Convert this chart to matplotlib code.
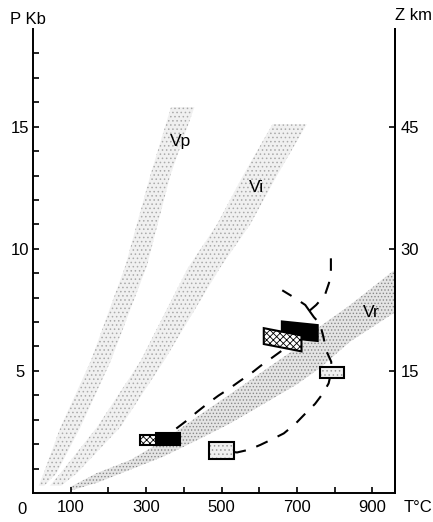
import matplotlib.pyplot as plt
import numpy as np
from matplotlib.patches import Polygon

plt.rcParams['font.family'] = ['Liberation Sans Narrow', 'Liberation Sans', 'DejaVu Sans']
plt.rcParams['hatch.linewidth'] = 0.6
plt.rcParams['lines.scale_dashes'] = False

# geotherm bands (T in C, P in kb)
vp_P = [0.3, 0.8, 2.7, 5.4, 9.3, 13.0, 15.8]
vp_Tleft = [15, 28, 73, 153, 245, 311, 366]
vp_Tright = [30, 62, 126, 206, 302, 364, 428]

vi_P = [0.3, 0.82, 2.7, 5.4, 9.2, 11.0, 13.0, 15.1]
vi_Tleft = [45, 73, 170, 285, 410, 488, 557, 635]
vi_Tright = [75, 117, 232, 347, 495, 576, 647, 726]

vr_T = [100, 170, 259, 347, 435, 523, 612, 700, 762, 841, 960]
vr_Plow = [0.1, 0.42, 0.96, 1.5, 2.16, 2.85, 3.65, 4.45, 5.13, 6.2, 7.4]
vr_Phigh = [0.26, 0.82, 1.36, 2.16, 3.12, 4.05, 5.01, 5.95, 6.83, 7.7, 9.15]

band_names = ['Vp', 'Vi', 'Vr']
band_label_T = [391, 592, 897]
band_label_P = [14.4, 12.5, 7.4]

# P-T boxes
rect_kind = ['cross', 'black', 'dot', 'black', 'cross', 'dot']
rect_T0 = [285, 325, 466, 660, 612, 760]
rect_T1 = [347, 391, 532, 755, 712, 825]
rect_P0 = [1.96, 1.97, 1.40, 6.30, 5.95, 4.70]
rect_P1 = [2.36, 2.44, 2.10, 6.95, 6.60, 5.16]
rect_tilt = [0, 0, 0, 0.15, 0.3, 0]

# dashed P-T paths
pathA_T = [380, 409, 435, 462, 492, 519, 550, 576, 603, 634, 668]
pathA_P = [2.64, 2.98, 3.32, 3.65, 3.99, 4.26, 4.6, 4.87, 5.2, 5.54, 5.92]

pathB_T = [532, 541, 572, 603, 634, 665, 695, 722, 748, 769, 784, 790, 791, 778, 770, 761, 745, 733]
pathB_P = [1.68, 1.66, 1.77, 1.97, 2.2, 2.44, 2.82, 3.25, 3.65, 4.08, 4.49, 4.9, 5.37, 5.82, 6.4, 6.93, 7.2, 7.46]

pathC_T = [733, 722, 693, 661]
pathC_P = [7.46, 7.7, 8.0, 8.3]

pathD_T = [733, 751, 774, 785, 790, 790]
pathD_P = [7.46, 7.7, 8.1, 8.6, 9.14, 9.7]

xticks = [100, 200, 300, 400, 500, 600, 700, 800, 900]
xticklabels = ['100', '', '300', '', '500', '', '700', '', '900']
yticks = [5, 10, 15]
zticks = [15, 30, 45]

fig = plt.figure(figsize=(4.33, 5.22), dpi=100)
ax = fig.add_axes([33 / 433, 29 / 522, 362 / 433, 464 / 522])
ax.set_xlim(0, 960)
ax.set_ylim(0, 19)

# bands
ax.fill_betweenx(vp_P, vp_Tleft, vp_Tright, facecolor='#f0f0f0', edgecolor='#aaaaaa',
                 hatch='....', lw=0, zorder=1)
ax.fill_betweenx(vi_P, vi_Tleft, vi_Tright, facecolor='#f0f0f0', edgecolor='#aaaaaa',
                 hatch='....', lw=0, zorder=1)
ax.fill_between(vr_T, vr_Plow, vr_Phigh, facecolor='#e4e4e4', edgecolor='#888888',
                hatch='.....', lw=0, zorder=1)

for name, t, p in zip(band_names, band_label_T, band_label_P):
    ax.text(t, p, name, fontsize=12.5, ha='center', va='center', zorder=5)

# dashed paths
for pt, pp in [(pathA_T, pathA_P), (pathB_T, pathB_P), (pathC_T, pathC_P), (pathD_T, pathD_P)]:
    ax.plot(pt, pp, color='black', lw=1.5, dashes=(9, 8), zorder=2)

# boxes
for i in range(len(rect_kind)):
    t0, t1 = rect_T0[i], rect_T1[i]
    p0, p1 = rect_P0[i], rect_P1[i]
    h = rect_tilt[i] / 2
    corners = [(t0, p0 + h), (t1, p0 - h), (t1, p1 - h), (t0, p1 + h)]
    if rect_kind[i] == 'black':
        ax.add_patch(Polygon(corners, closed=True, facecolor='black', edgecolor='black',
                             lw=1.5, zorder=3 + i))
    elif rect_kind[i] == 'cross':
        ax.add_patch(Polygon(corners, closed=True, facecolor='white', edgecolor='black',
                             lw=1.5, hatch='xxxxx', zorder=3 + i))
    else:
        ax.add_patch(Polygon(corners, closed=True, facecolor='#f0f0f0', edgecolor='#999999',
                             lw=0, hatch='....', zorder=3 + i))
        ax.add_patch(Polygon(corners, closed=True, facecolor='none', edgecolor='black',
                             lw=1.5, zorder=3 + i))

# axes
ax.spines['top'].set_visible(False)
for s in ['left', 'bottom', 'right']:
    ax.spines[s].set_linewidth(1.4)
ax.set_xticks(xticks)
ax.set_xticklabels(xticklabels)
ax.set_yticks(yticks)
ax.set_yticks(range(1, 19), minor=True)
ax.tick_params(axis='x', direction='in', length=4, width=1.2, pad=5, labelsize=12)
ax.tick_params(axis='y', which='both', direction='in', length=4, width=1.2, pad=9.5,
               labelsize=12)
for lab in ax.get_yticklabels():
    lab.set_ha('center')
ax.text(-28, -0.35, '0', fontsize=12, ha='center', va='top', clip_on=False)

ax2 = ax.twinx()
ax2.set_ylim(0, 19 * 3)
ax2.set_yticks(zticks)
for s in ['top', 'left', 'bottom']:
    ax2.spines[s].set_visible(False)
ax2.spines['right'].set_linewidth(1.4)
ax2.tick_params(axis='y', direction='in', length=4, width=1.2, pad=4, labelsize=12)

fig.text(10 / 433, 1 - 20 / 522, 'P Kb', fontsize=12, ha='left', va='center')
fig.text(432 / 433, 1 - 16 / 522, 'Z km', fontsize=12, ha='right', va='center')
fig.text(432 / 433, 1 - 508 / 522, 'T°C', fontsize=12, ha='right', va='center')

fig.savefig('out.png', dpi=100)
